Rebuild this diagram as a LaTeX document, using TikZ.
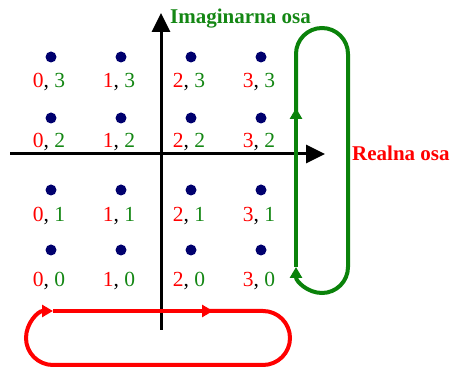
\documentclass[tikz,border=0pt]{standalone}
\usepackage{fontspec}
\setmainfont{Liberation Serif}
\usetikzlibrary{arrows.meta}
\definecolor{lblred}{RGB}{255,0,0}
\definecolor{lblgreen}{RGB}{20,135,20}
\definecolor{loopgreen}{RGB}{10,130,10}
\definecolor{dotnavy}{RGB}{0,0,110}
\begin{document}
\begin{tikzpicture}[x=1pt,y=1pt,
  dot/.style={circle,fill=dotnavy,inner sep=0pt,minimum size=11pt},
  lbl/.style={inner sep=0pt,font=\fontsize{21.5}{21.5}\selectfont},
  axisline/.style={line width=3pt,black,-{Triangle[width=18pt,length=19pt]}},
  gline/.style={line width=4pt,loopgreen},
  rline/.style={line width=4pt,lblred},
  ltip/.style={-{Triangle[width=12pt,length=11pt]}},
  axlabel/.style={inner sep=0pt,font=\fontsize{21}{21}\selectfont\bfseries}
]
\useasboundingbox (0,0) rectangle (450,369);
% dots and labels
\foreach \i/\x in {0/51,1/121,2/191,3/261}{
  \foreach \j/\y/\ly in {0/119/88,1/179/153,2/251/227,3/312/286.5}{
    \node[dot] (d\i\j) at (\x,\y) {};
    \node[lbl] (l\i\j) at (\x-2,\ly) {\textcolor{lblred}{\i}, \textcolor{lblgreen}{\j}};
  }
}
% axes
\coordinate (vb) at (161,39);
\coordinate (vt) at (161,356);
\coordinate (hl) at (10,215);
\coordinate (hr) at (325,215);
\draw[axisline] (vb) -- (vt);
\draw[axisline] (hl) -- (hr);
\node[axlabel,text=lblgreen,anchor=base west] (imag) at (170,345) {Imaginarna osa};
\node[axlabel,text=lblred,anchor=west] (real) at (352,215.5) {Realna osa};
% green loop
\coordinate (g0) at (296,102);
\coordinate (g1) at (296,261);
\coordinate (g2) at (296,255);
\draw[gline,ltip] (g0) -- (g1);
\draw[gline,ltip] (g2) -- (296,315) arc (180:0:26) -- (348,102) arc (0:-180:26);
% red loop
\coordinate (r0) at (53,58);
\coordinate (r1) at (213,58);
\coordinate (r2) at (205,58);
\draw[rline,ltip] (r0) -- (r1);
\draw[rline,ltip] (r2) -- (263,58) arc (90:-90:27) -- (53,4) arc (270:90:27);
\end{tikzpicture}
\end{document}
